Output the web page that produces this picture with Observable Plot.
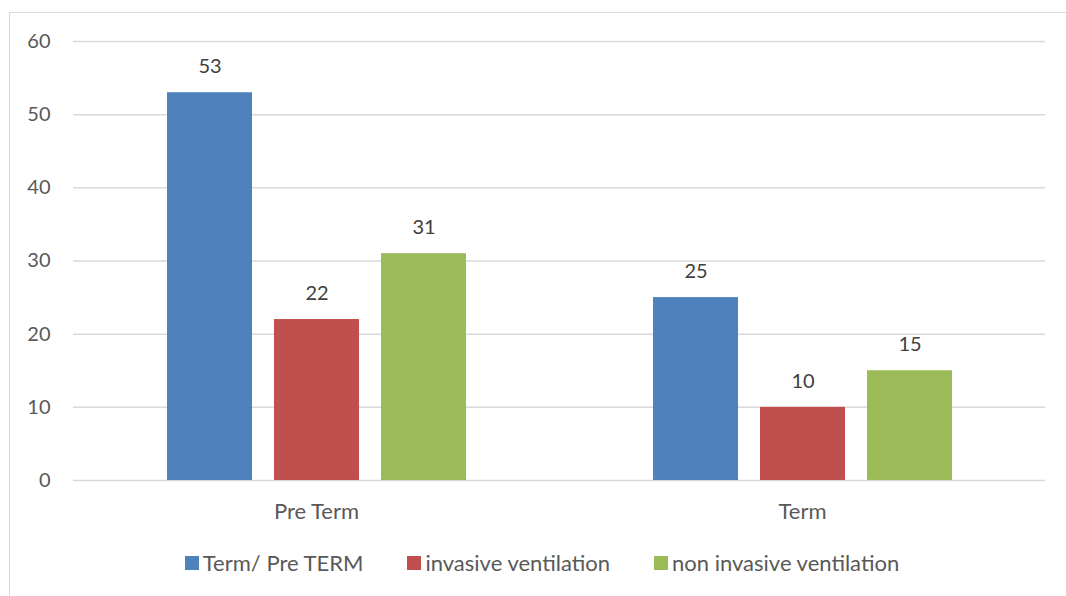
<!DOCTYPE html>
<html>
<head>
<meta charset="utf-8">
<script src="https://cdn.jsdelivr.net/npm/d3@7"></script>
<script src="https://cdn.jsdelivr.net/npm/@observablehq/plot@0.6"></script>
<style>
  html, body { margin: 0; padding: 0; background: #fff; }
  #wrap { position: relative; width: 1066px; height: 596px; overflow: hidden; font-family: Lato, "Open Sans", sans-serif; }
  #frame { position: absolute; left: 9px; top: 12px; width: 1100px; height: 640px; border: 1px solid #d9d9d9; box-sizing: border-box; }
  #chart { position: absolute; left: 0; top: 0; }
  #legend { position: absolute; top: 549px; left: 0; width: 1066px; padding-left: 18px; box-sizing: border-box; display: flex; justify-content: center; font-size: 22px; color: #595959; }
  #legend .item { display: flex; align-items: center; margin: 0 22px; }
  #legend .sw { width: 14px; height: 14px; margin-right: 4px; }
</style>
</head>
<body>
<div id="wrap">
  <div id="frame"></div>
  <div id="chart"></div>
  <div id="legend"></div>
</div>
<script>
const categories = ["Pre Term", "Term"];
const seriesNames = ["Term/ Pre TERM", "invasive ventilation", "non invasive ventilation"];
const termPreTerm = [53, 25];
const invasiveVentilation = [22, 10];
const nonInvasiveVentilation = [31, 15];
const yTicks = [0, 10, 20, 30, 40, 50, 60];
const colors = ["#4f81bd", "#c0504d", "#9bbb59"];

const seriesValues = [termPreTerm, invasiveVentilation, nonInvasiveVentilation];
const data = [];
categories.forEach((cat, i) => {
  seriesNames.forEach((s, j) => {
    data.push({ category: cat, series: s, value: seriesValues[j][i] });
  });
});

const chart = Plot.plot({
  width: 1066,
  height: 596,
  marginLeft: 73,
  marginRight: 21,
  marginTop: 41,
  marginBottom: 116,
  style: { fontFamily: "Lato, 'Open Sans', sans-serif", color: "#595959", background: "transparent" },
  fx: { domain: categories, paddingInner: 0, paddingOuter: 0, label: null },
  x: { domain: seriesNames, paddingInner: 0.21, paddingOuter: 0.865, axis: null },
  y: { domain: [0, 60], label: null },
  color: { domain: seriesNames, range: colors },
  marks: [
    Plot.ruleY(yTicks, { stroke: "#d9d9d9", strokeWidth: 1.5 }),
    Plot.axisY(yTicks, { tickSize: 0, tickPadding: 23, fontSize: 20, fill: "#595959", label: null }),
    Plot.axisFx({ anchor: "bottom", tickSize: 0, tickPadding: 23, fontSize: 22, fill: "#595959", label: null }),
    Plot.barY(data, { fx: "category", x: "series", y: "value", fill: "series" }),
    Plot.text(data, { fx: "category", x: "series", y: "value", text: d => String(d.value), dy: -26, fill: "#404040", fontSize: 20 })
  ]
});
document.getElementById("chart").appendChild(chart);

const legend = document.getElementById("legend");
seriesNames.forEach((s, j) => {
  const item = document.createElement("div");
  item.className = "item";
  const sw = document.createElement("span");
  sw.className = "sw";
  sw.style.background = colors[j];
  const label = document.createElement("span");
  label.textContent = s;
  item.appendChild(sw);
  item.appendChild(label);
  legend.appendChild(item);
});
</script>
</body>
</html>
